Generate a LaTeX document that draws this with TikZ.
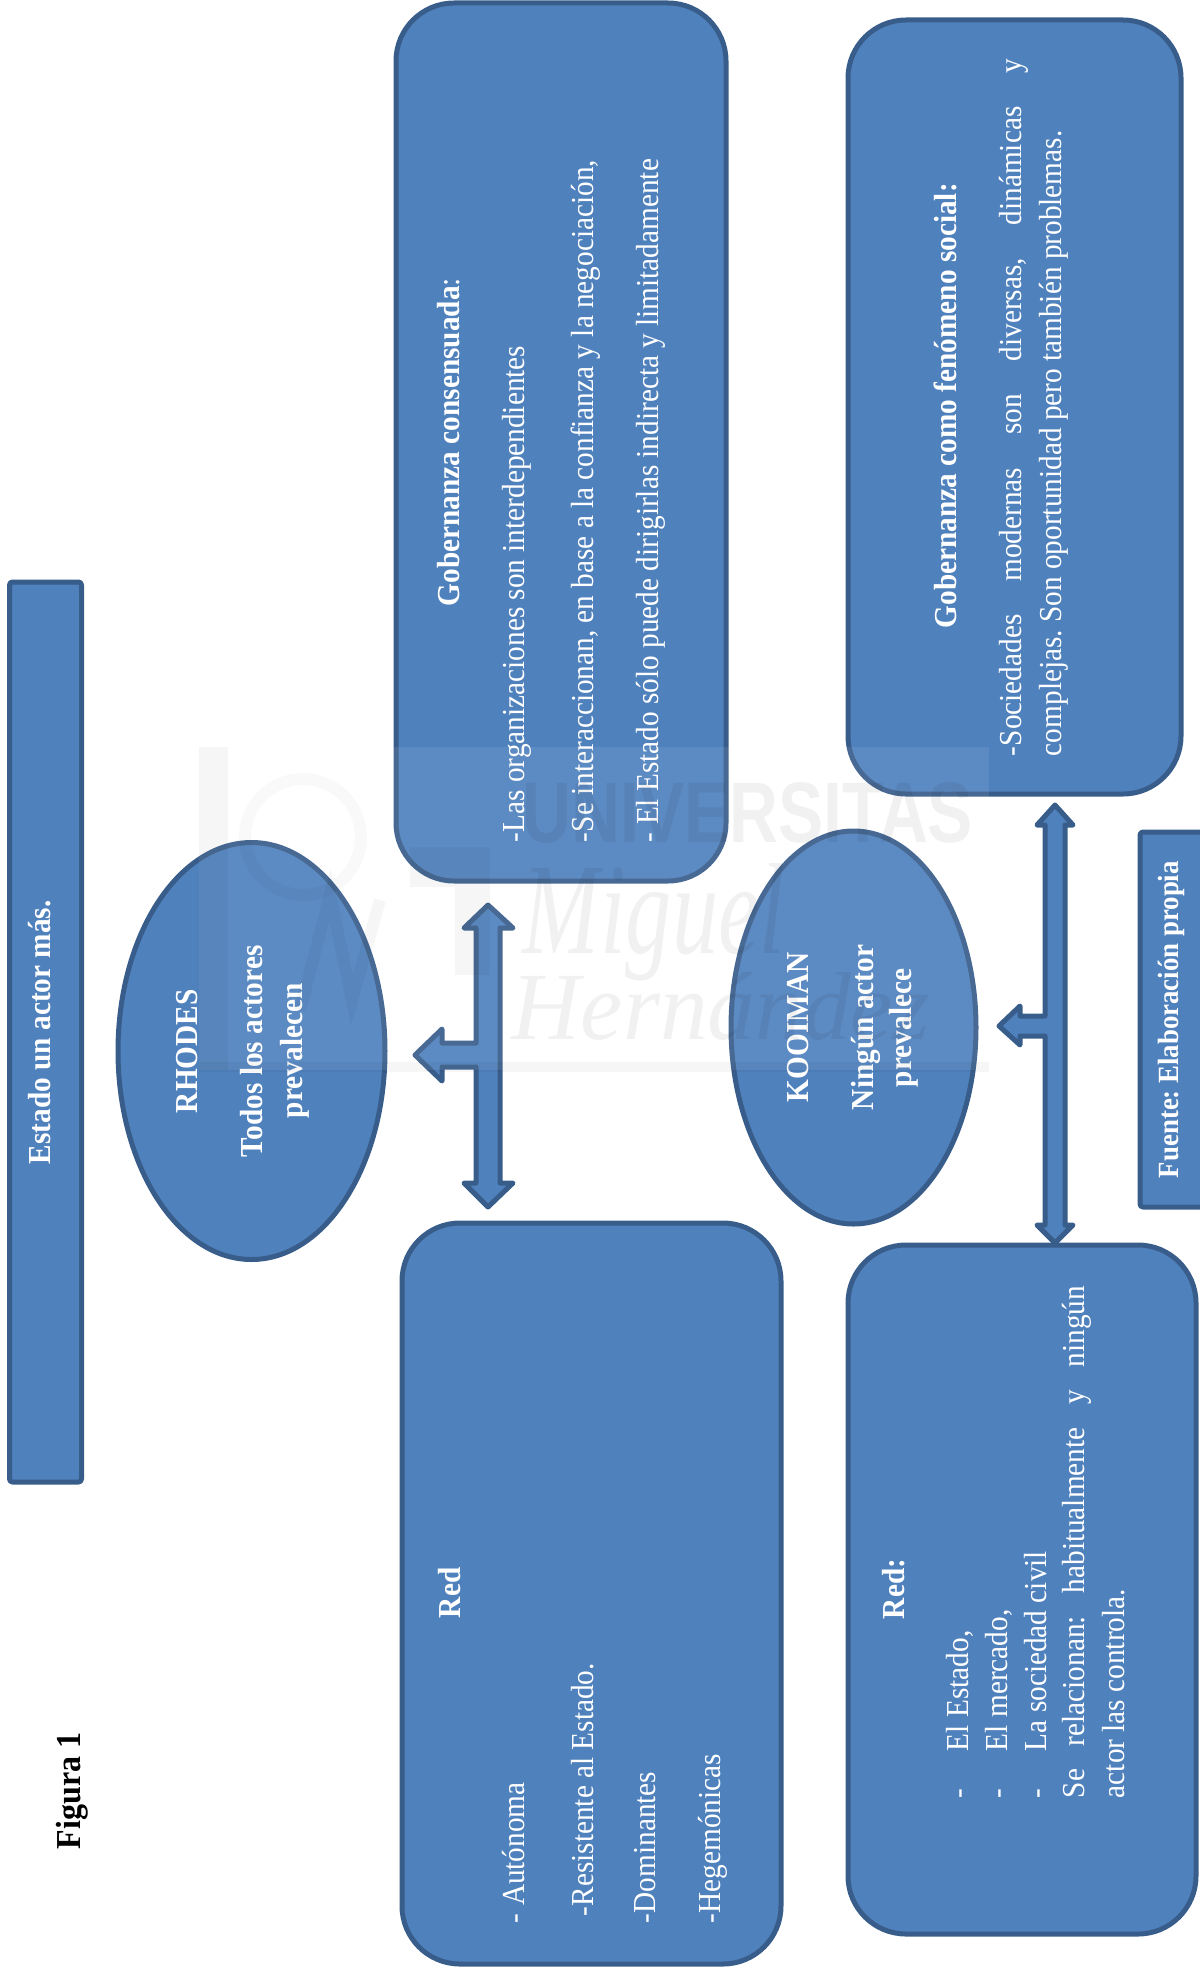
\documentclass[tikz,border=0pt]{standalone}
\usepackage{fontspec}
\setmainfont[FakeStretch=0.915]{Liberation Serif}
\newfontfamily\wmserif{Liberation Serif}
\newfontfamily\wmsans{Liberation Sans}
\usetikzlibrary{shapes.geometric}
\definecolor{boxfill}{HTML}{4F81BD}
\definecolor{boxline}{HTML}{385D8A}
\tikzset{
  shapebase/.style={draw=boxline,fill=boxfill,line width=5pt,inner sep=0pt,outer sep=0pt,line join=round},
  roundbox/.style={shapebase,rectangle,rounded corners=58pt},
  flatbox/.style={shapebase,rectangle,rounded corners=3pt},
  oval/.style={shapebase,ellipse},
  blockarrow/.style={draw=boxline,fill=boxfill,line width=5pt,line join=round},
  txt/.style={anchor=base west,rotate=90,inner sep=0pt,outer sep=0pt,text=white,font=\fontsize{32}{40}\selectfont\frenchspacing},
  btxt/.style={txt,font=\fontsize{32}{40}\selectfont\bfseries\frenchspacing},
  wm/.style={inner sep=0pt,outer sep=0pt,text=black,text opacity=.055},
  wmshape/.style={fill=black,fill opacity=.035,draw=none}
}
\begin{document}
\begin{tikzpicture}[x=1pt,y=-1pt]
\useasboundingbox (0,0) rectangle (1199,1975);
% shapes
\node[roundbox,minimum width=330pt,minimum height=878pt] (gobcons) at (561,442) {};
\node[roundbox,minimum width=333pt,minimum height=774pt] (gobfen) at (1014.5,407) {};
\node[roundbox,minimum width=379pt,minimum height=741pt] (redrh) at (591.5,1593.5) {};
\node[roundbox,minimum width=348pt,minimum height=689pt] (redko) at (1022,1589.5) {};
\node[flatbox,minimum width=72pt,minimum height=900pt] (estado) at (45.5,1032) {};
\node[flatbox,minimum width=92pt,minimum height=375pt] (fuente) at (1186,1019.5) {};
\node[oval,minimum width=267pt,minimum height=417pt] (rhodes) at (251.5,1051) {};
\node[oval,minimum width=245pt,minimum height=393pt] (kooiman) at (853.5,1027.5) {};
% arrows
\draw[blockarrow] (488,905) -- (513,928) -- (500,928) -- (500,1043) -- (500,1183) -- (513,1183) -- (488,1207) -- (464,1183) -- (476,1183) -- (476,1067) -- (442,1067) -- (442,1081) -- (415,1055) -- (442,1029) -- (442,1043) -- (476,1043) -- (476,928) -- (464,928) -- cycle;
\draw[blockarrow] (1055,805) -- (1073,825) -- (1065,825) -- (1065,1225) -- (1073,1225) -- (1055,1243) -- (1037,1225) -- (1045,1225) -- (1045,1036) -- (1020,1036) -- (1020,1045) -- (999,1026) -- (1020,1006) -- (1020,1016) -- (1045,1016) -- (1045,825) -- (1037,825) -- cycle;
% texts
\node[txt,text=black,font=\fontsize{35}{40}\selectfont\bfseries] (figura) at (80,1849) {Figura 1};
\node[btxt] (testado) at (50,1164) {Estado un actor más.};
\node[btxt] (t1) at (197,1113) {RHODES};
\node[btxt] (t2) at (262,1157) {Todos los actores};
\node[btxt] (t3) at (302,1118) {prevalecen};
\node[btxt] (t4) at (808.5,1102) {KOOIMAN};
\node[btxt] (t5) at (873,1110) {Ningún actor};
\node[btxt] (t6) at (911,1087) {prevalece};
\node[btxt,font=\fontsize{29.3}{36}\selectfont\bfseries\frenchspacing] (t7) at (1178,1178) {Fuente: Elaboración propia};
\node[txt] (g1) at (459,606) {\textbf{Gobernanza consensuada}:};
\node[txt] (g2) at (524,842) {-Las organizaciones son interdependientes};
\node[txt] (g3) at (593,842) {-Se interaccionan, en base a la confianza y la negociación,};
\node[txt] (g4) at (658,842) {- El Estado sólo puede dirigirlas indirecta y limitadamente};
\node[btxt] (f1) at (956,628) {Gobernanza como fenómeno social:};
\node[txt] (f2) at (1021,756) {\makebox[697pt][s]{-Sociedades modernas son diversas, dinámicas y}};
\node[txt] (f3) at (1061,756) {complejas. Son oportunidad pero también problemas.};
\node[btxt] (r1) at (460,1618) {Red};
\node[txt] (r2) at (524,1923) {- Autónoma};
\node[txt] (r3) at (593,1916) {-Resistente al Estado.};
\node[txt] (r4) at (655,1923) {-Dominantes};
\node[txt] (r5) at (720,1923) {-Hegemónicas};
\node[btxt] (k1) at (904,1619) {Red:};
\node[txt] (k2a) at (968,1798) {-};
\node[txt] (k2) at (968,1751) {El Estado,};
\node[txt] (k3a) at (1007,1798) {-};
\node[txt] (k3) at (1007,1751) {El mercado,};
\node[txt] (k4a) at (1046,1798) {-};
\node[txt] (k4) at (1046,1751) {La sociedad civil};
\node[txt] (k5) at (1084,1798) {\makebox[512pt][s]{Se relacionan: habitualmente y ningún}};
\node[txt] (k6) at (1124,1798) {actor las controla.};
% watermark
\fill[white,fill opacity=.08] (199,747) rectangle (989,1070);
\fill[wmshape] (199,747) rectangle (228,1070);
\fill[wmshape] (199,1062) rectangle (989,1072);
\fill[wmshape] (410,847) rectangle (490,887);
\fill[wmshape] (455,887) rectangle (490,975);
\draw[black,opacity=.025,line width=12pt] (303,837) circle[radius=58pt];
\draw[black,opacity=.035,line width=12pt] (300,1010) -- (330,895) -- (352,1000) -- (380,900);
\node[wm] (wm1) at (748,813) {\resizebox{450pt}{60pt}{\wmsans\bfseries UNIVERSITAS}};
\node[wm] (wm2) at (654,922) {\resizebox{262pt}{90pt}{\wmserif\itshape Miguel}};
\node[wm] (wm3) at (721,1006) {\resizebox{418pt}{67pt}{\wmserif\itshape Hernández}};
\end{tikzpicture}
\end{document}
